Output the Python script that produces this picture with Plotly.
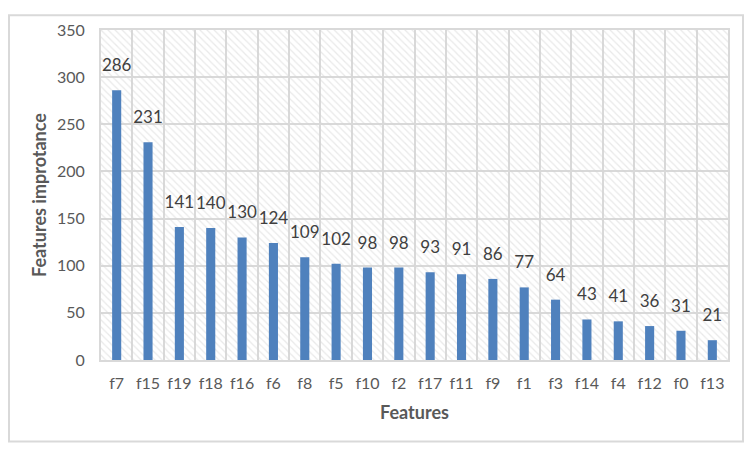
import plotly.graph_objects as go

features = ["f7", "f15", "f19", "f18", "f16", "f6", "f8", "f5", "f10", "f2",
            "f17", "f11", "f9", "f1", "f3", "f14", "f4", "f12", "f0", "f13"]
importance = [286, 231, 141, 140, 130, 124, 109, 102, 98, 98,
              93, 91, 86, 77, 64, 43, 41, 36, 31, 21]
y_ticks = [0, 50, 100, 150, 200, 250, 300, 350]
y_max = 350

grid = "#d9d9d9"
text_col = "#595959"
font_name = "Lato, Noto Sans, sans-serif"

fig = go.Figure()

# hatched plot-area background: full-height bars behind the data
fig.add_trace(go.Bar(
    x=features, y=[y_max] * len(features), width=1,
    marker=dict(color="rgba(0,0,0,0)", line=dict(width=0),
                pattern=dict(shape="\\", fgcolor="#d4d4d4", bgcolor="rgba(0,0,0,0)",
                             size=5, solidity=0.25)),
    hoverinfo="skip", showlegend=False,
))

fig.add_trace(go.Bar(
    x=features, y=importance, width=0.29,
    marker=dict(color="#4f81bd", line=dict(width=0)),
    showlegend=False,
))

# value labels, lifted off the bar tops by an invisible marker
fig.add_trace(go.Scatter(
    x=features, y=importance, mode="markers+text",
    text=importance, textposition="top center", cliponaxis=False,
    marker=dict(size=22, color="rgba(0,0,0,0)"),
    textfont=dict(family=font_name, size=17, color="#404040"),
    hoverinfo="skip", showlegend=False,
))

# page has 8px body margin, so figure is 736x436 placed at (8, 8)
fig.update_layout(
    width=736, height=436,
    margin=dict(l=93, r=16, t=16, b=84),
    paper_bgcolor="white", plot_bgcolor="white",
    font=dict(family=font_name, color=text_col, size=16),
    barmode="overlay",
    xaxis=dict(
        range=[-0.5, len(features) - 0.5], tickangle=0,
        tickson="boundaries", showgrid=True, gridcolor=grid, gridwidth=2,
        showline=True, linecolor=grid, linewidth=2, mirror=True,
        ticks="", ticklabelstandoff=8, tickfont=dict(size=16, color=text_col),
        title=dict(text="<b>Features</b>", font=dict(size=18, color=text_col), standoff=15),
    ),
    yaxis=dict(
        range=[0, y_max], tickvals=y_ticks, showgrid=True, gridcolor=grid, gridwidth=2,
        showline=True, linecolor=grid, linewidth=2, mirror=True,
        zeroline=False, ticks="", ticklabelstandoff=11,
        tickfont=dict(size=16, color=text_col),
        title=dict(text="<b>Features improtance</b>", font=dict(size=18, color=text_col), standoff=6),
    ),
    shapes=[dict(type="rect", xref="paper", yref="paper",
                 x0=(1 - 93) / 627, x1=(735 - 93) / 627,
                 y0=(352 - 435) / 336, y1=(352 - 1) / 336,
                 line=dict(color=grid, width=2), fillcolor="rgba(0,0,0,0)", layer="below")],
)

fig.write_html("out.html")
